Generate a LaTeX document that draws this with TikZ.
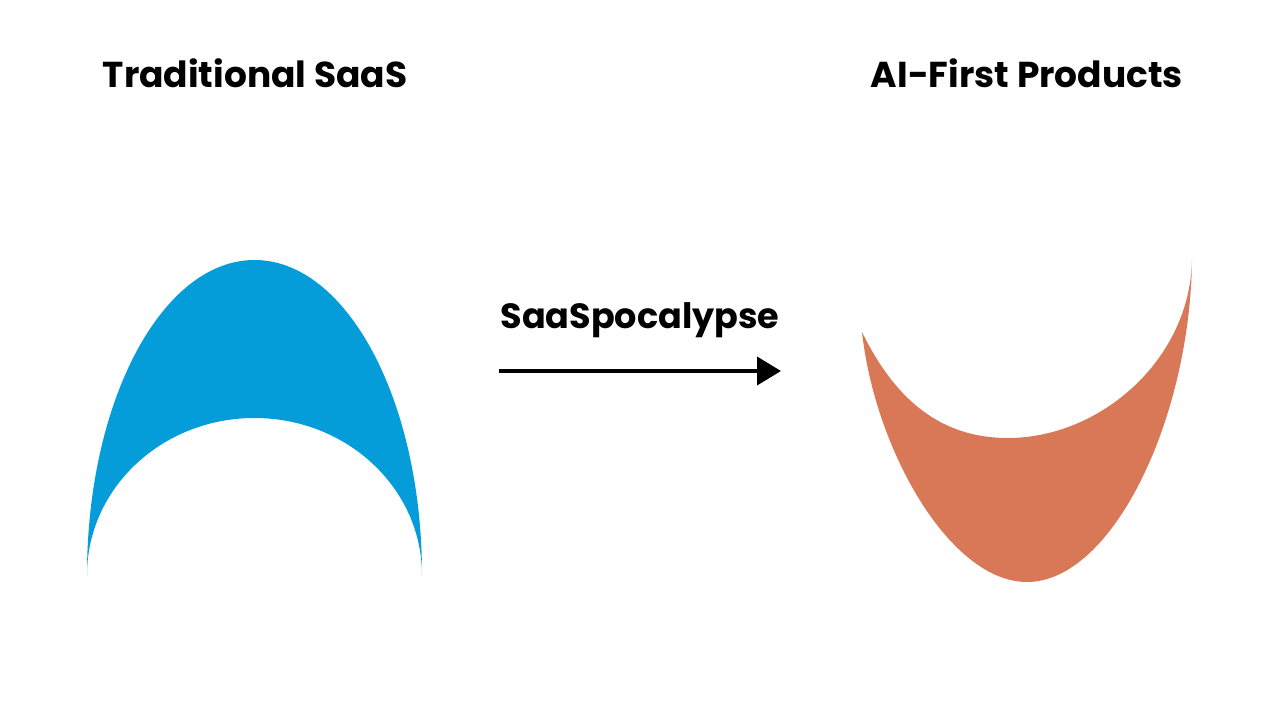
\documentclass[tikz,border=0pt]{standalone}
\usepackage{fontspec}
\setmainfont{Poppins}
\usetikzlibrary{arrows.meta}
\definecolor{saasblue}{HTML}{049DD9}
\definecolor{aiorange}{HTML}{D97857}

\begin{document}
\begin{tikzpicture}[x=1pt, y=-1pt, inner sep=0pt,
    title/.style={font=\bfseries\fontsize{36}{42}\selectfont, anchor=base},
    event/.style={font=\bfseries\fontsize{35}{40}\selectfont, anchor=base}]
  \useasboundingbox (0,0) rectangle (1280,720);

  % headings
  \node[title] (saas) at (255,87) {Traditional SaaS};
  \node[title] (aifirst) at (1027,87) {AI-First Products};

  % blue arch
  \fill[saasblue] (87,575) arc[start angle=180, end angle=360, x radius=167.5, y radius=315]
    arc[start angle=0, end angle=-180, x radius=167.5, y radius=157] -- cycle;

  % orange bowl
  \fill[aiorange] (862,332) .. controls (875,450) and (950,582) .. (1027,582)
    .. controls (1112,582) and (1190,420) .. (1192,260)
    .. controls (1190,360) and (1100,438) .. (1008,438)
    .. controls (950,438) and (900,410) .. (862,332) -- cycle;

  % transition
  \node[event] (shift) at (640,328) {SaaSpocalypse};
  \coordinate (from) at (499,371);
  \coordinate (to) at (781,371);
  \draw[line width=4pt, -{Triangle[length=24pt, width=28pt]}] (from) -- (to);
\end{tikzpicture}
\end{document}
